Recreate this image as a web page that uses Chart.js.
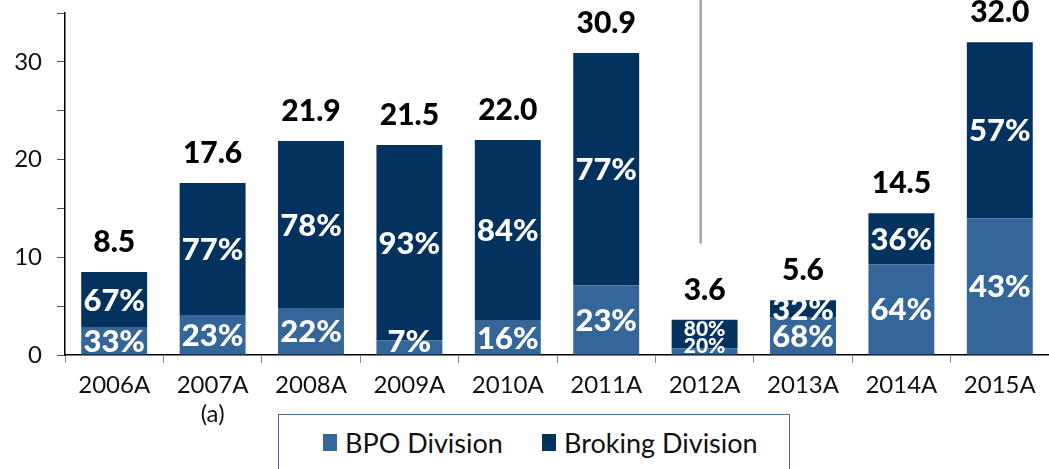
<!DOCTYPE html>
<html>
<head>
<meta charset="utf-8">
<script src="https://cdn.jsdelivr.net/npm/chart.js@4.4.1/dist/chart.umd.min.js"></script>
<style>
  html, body { margin: 0; padding: 0; background: #fff; }
  #wrap { position: relative; width: 1049px; height: 469px; overflow: hidden; }
  #c { position: absolute; left: 0; top: 0; }
  #legend {
    position: absolute; left: 278px; top: 414px; width: 512px; height: 70px;
    border: 1.5px solid #4d6f9c; background: #fff; box-sizing: border-box;
    font-family: Lato, sans-serif; font-size: 27px; color: #111;
  }
  .item { position: absolute; top: 11px; display: flex; align-items: center; }
  .sw { width: 14px; height: 17px; margin-right: 8px; }
</style>
</head>
<body>
<div id="wrap">
  <canvas id="c" width="1049" height="469"></canvas>
  <div id="legend"></div>
</div>
<script>
const categories = ['2006A', ['2007A', '(a)'], '2008A', '2009A', '2010A', '2011A', '2012A', '2013A', '2014A', '2015A'];
const bpoValues = [2.8, 4.1, 4.8, 1.5, 3.5, 7.1, 0.7, 3.8, 9.3, 14.0];
const brokingValues = [5.7, 13.5, 17.1, 20.0, 18.5, 23.8, 2.9, 1.8, 5.2, 18.0];
const totalLabels = ['8.5', '17.6', '21.9', '21.5', '22.0', '30.9', '3.6', '5.6', '14.5', '32.0'];
const bpoPctLabels = ['33%', '23%', '22%', '7%', '16%', '23%', '20%', '68%', '64%', '43%'];
const brokingPctLabels = ['67%', '77%', '78%', '93%', '84%', '77%', '80%', '32%', '36%', '57%'];
const seriesNames = ['BPO Division', 'Broking Division'];
const yMax = 35;
const yStep = 5;
const dividerTop = 11.4;        // value where the grey divider line ends
const smallLabelCats = [6];     // category indexes whose % labels use the small font

const COLORS = ['#346699', '#03325f'];

// legend (HTML)
const legend = document.getElementById('legend');
const legendX = [44, 263];
seriesNames.forEach((n, i) => {
  const d = document.createElement('div');
  d.className = 'item';
  d.style.left = legendX[i] + 'px';
  d.innerHTML = '<span class="sw" style="background:' + COLORS[i] + '"></span><span>' + n + '</span>';
  legend.appendChild(d);
});

const labelPlugin = {
  id: 'labels',
  afterDatasetsDraw(chart) {
    const ctx = chart.ctx;
    const m0 = chart.getDatasetMeta(0).data;
    const m1 = chart.getDatasetMeta(1).data;
    const xs = chart.scales.x, ys = chart.scales.y;
    ctx.save();
    ctx.textAlign = 'center';
    ctx.textBaseline = 'middle';
    for (let i = 0; i < categories.length; i++) {
      const small = smallLabelCats.includes(i);
      const fs = small ? 21 : 31;
      ctx.font = '900 ' + fs + 'px Lato';
      ctx.fillStyle = '#fff';
      const b0 = m0[i], b1 = m1[i];
      const half = fs * 0.36;
      let y0 = (b0.y + b0.base) / 2;
      y0 = Math.min(y0, b0.base - half - 2);
      ctx.fillText(bpoPctLabels[i], b0.x, y0 + 1);
      let y1 = (b1.y + b1.base) / 2;
      if (small) y1 -= 6;
      ctx.fillText(brokingPctLabels[i], b1.x, y1 + 1);
      // totals
      ctx.font = '900 30px Lato';
      ctx.fillStyle = '#000';
      ctx.textBaseline = 'alphabetic';
      ctx.fillText(totalLabels[i], b1.x, b1.y - 20);
      ctx.textBaseline = 'middle';
    }
    // divider line
    const cw = (xs.right - xs.left) / categories.length;
    const lx = xs.getPixelForValue(6) - 0.04 * cw;
    ctx.strokeStyle = '#a6a6a6';
    ctx.lineWidth = 2.5;
    ctx.beginPath();
    ctx.moveTo(lx, 0);
    ctx.lineTo(lx, ys.getPixelForValue(dividerTop));
    ctx.stroke();
    ctx.restore();
  }
};

function build() {
  Chart.defaults.font.family = 'Lato';
  new Chart(document.getElementById('c'), {
    type: 'bar',
    data: {
      labels: categories,
      datasets: [
        { label: seriesNames[0], data: bpoValues, backgroundColor: COLORS[0], barPercentage: 0.67, categoryPercentage: 1 },
        { label: seriesNames[1], data: brokingValues, backgroundColor: COLORS[1], barPercentage: 0.67, categoryPercentage: 1 }
      ]
    },
    options: {
      responsive: false,
      animation: false,
      layout: { padding: { top: 13, left: 0, right: 0, bottom: 0 } },
      plugins: { legend: { display: false }, tooltip: { enabled: false } },
      scales: {
        x: {
          stacked: true,
          grid: { display: true, drawOnChartArea: false, drawTicks: true, tickLength: 8, color: '#8c8c8c', offset: true },
          border: { display: true, color: '#000', width: 1.5 },
          ticks: { color: '#111', font: { size: 24, lineHeight: 1.2 }, padding: 8, maxRotation: 0, autoSkip: false },
          afterFit(scale) { scale.height = 114; scale.paddingLeft = 0; scale.paddingRight = 0; }
        },
        y: {
          stacked: true,
          min: 0, max: yMax,
          grid: { display: true, drawOnChartArea: false, drawTicks: true, tickLength: 8, color: '#555' },
          border: { display: true, color: '#000', width: 1.5 },
          ticks: {
            stepSize: yStep, color: '#111', font: { size: 24 }, padding: 15,
            callback: v => (v % 10 === 0 ? v : '')
          },
          afterFit(scale) { scale.width = 65; scale.paddingTop = 0; scale.paddingBottom = 0; }
        }
      }
    },
    plugins: [labelPlugin]
  });
}

Promise.all([
  document.fonts.load('24px Lato'),
  document.fonts.load('900 30px Lato')
]).then(build, build);
</script>
</body>
</html>
